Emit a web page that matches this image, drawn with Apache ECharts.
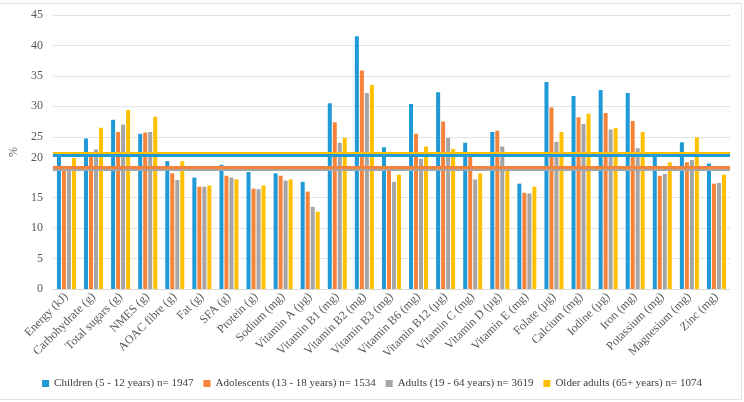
<!DOCTYPE html>
<html lang="en">
<head>
    <meta charset="UTF-8">
    <title>Nutrient intake by age group</title>
    <script src="https://cdn.jsdelivr.net/npm/echarts@6/dist/echarts.min.js"></script>
    <style>
        html, body {
            margin: 0;
            padding: 0;
            background: #fff;
        }
        .frame {
            position: absolute;
            left: -1px;
            top: 3px;
            width: 741px;
            height: 395px;
            border: 1px solid #e3e3e3;
        }
        #chart {
            position: absolute;
            left: 0;
            top: 0;
            width: 744px;
            height: 402px;
        }
    </style>
</head>
<body>
    <div class="frame"></div>
    <div id="chart"></div>

    <script>
        // categories (nutrients)
        const categories = [
            'Energy (kJ)', 'Carbohydrate (g)', 'Total sugars (g)', 'NMES (g)', 'AOAC fibre (g)',
            'Fat (g)', 'SFA (g)', 'Protein (g)', 'Sodium (mg)', 'Vitamin A (µg)',
            'Vitamin B1 (mg)', 'Vitamin B2 (mg)', 'Vitamin B3 (mg)', 'Vitamin B6 (mg)', 'Vitamin B12 (µg)',
            'Vitamin C (mg)', 'Vitamin D (µg)', 'Vitamin E (mg)', 'Folate (µg)', 'Calcium (mg)',
            'Iodine (µg)', 'Iron (mg)', 'Potassium (mg)', 'Magnesium (mg)', 'Zinc (mg)'
        ];

        const seriesNames = [
            'Children (5 - 12 years) n= 1947',
            'Adolescents (13 - 18 years) n= 1534',
            'Adults (19 - 64 years) n= 3619',
            'Older adults (65+ years) n= 1074'
        ];

        // % values
        const children    = [21.9, 24.7, 27.8, 25.5, 21.0, 18.3, 20.4, 19.2, 19.0, 17.6, 30.5, 41.5, 23.3, 30.4, 32.3, 24.0, 25.8, 17.3, 34.0, 31.7, 32.7, 32.2, 22.0, 24.1, 20.6];
        const adolescents = [20.0, 22.0, 25.8, 25.7, 19.0, 16.8, 18.6, 16.5, 18.6, 16.0, 27.4, 35.9, 19.9, 25.5, 27.5, 21.8, 26.0, 15.8, 29.8, 28.2, 28.9, 27.6, 18.6, 20.8, 17.3];
        const adults      = [19.8, 22.9, 27.0, 25.8, 17.9, 16.8, 18.3, 16.4, 17.8, 13.5, 24.0, 32.2, 17.6, 21.4, 24.8, 18.0, 23.4, 15.7, 24.2, 27.1, 26.2, 23.1, 18.9, 21.2, 17.4];
        const olderAdults = [21.5, 26.5, 29.4, 28.3, 21.0, 17.0, 18.0, 17.0, 18.0, 12.7, 24.8, 33.5, 18.8, 23.4, 23.0, 19.0, 19.6, 16.8, 25.8, 28.8, 26.4, 25.8, 20.8, 24.9, 18.8];

        // horizontal reference line for each group (same order as seriesNames)
        const refLines = [22.0, 20.0, 19.7, 22.3];

        const colors = ['#1f9ad6', '#f5843a', '#a5a5a5', '#ffc000'];
        const allData = [children, adolescents, adults, olderAdults];

        const font = 'Liberation Serif, serif';

        const chart = echarts.init(document.getElementById('chart'));

        const series = allData.map((d, i) => ({
            name: seriesNames[i],
            type: 'bar',
            data: d,
            barWidth: 4,
            barGap: '25%',
            itemStyle: { color: colors[i] }
        }));

        // reference lines go on empty line series so they sit above all bars;
        // drawing order: yellow, blue, grey, orange (last one on top)
        [3, 0, 2, 1].forEach(i => {
            series.push({
                name: 'ref' + i,
                type: 'line',
                data: [],
                markLine: {
                    silent: true,
                    symbol: 'none',
                    label: { show: false },
                    lineStyle: { color: colors[i], width: 3, type: 'solid', opacity: 1 },
                    data: [{ yAxis: refLines[i] }]
                }
            });
        });

        chart.setOption({
            animation: false,
            textStyle: { fontFamily: font },
            grid: { left: 50, right: 14, top: 15, bottom: 113 },
            legend: {
                bottom: 8,
                left: 'center',
                icon: 'rect',
                itemWidth: 7,
                itemHeight: 7,
                itemGap: 10,
                textStyle: { fontFamily: 'serif', fontSize: 11, color: '#404040' },
                data: seriesNames
            },
            xAxis: {
                type: 'category',
                data: categories,
                axisLine: { lineStyle: { color: '#d9d9d9' } },
                axisTick: { show: false },
                axisLabel: {
                    interval: 0,
                    rotate: 45,
                    margin: 6,
                    fontFamily: font,
                    fontSize: 12,
                    color: '#595959'
                }
            },
            yAxis: {
                type: 'value',
                min: 0,
                max: 45,
                interval: 5,
                name: '%',
                nameLocation: 'middle',
                nameGap: 30,
                nameRotate: 90,
                nameTextStyle: { fontFamily: font, fontSize: 12, color: '#595959' },
                axisLine: { show: false },
                axisTick: { show: false },
                splitLine: { lineStyle: { color: '#e3e3e3' } },
                axisLabel: {
                    margin: 10,
                    fontFamily: font,
                    fontSize: 12,
                    color: '#595959',
                    // the "20" label sits a little higher in the original
                    formatter: v => v === 20 ? '{up|20}' : String(v),
                    rich: {
                        up: { fontFamily: font, fontSize: 12, color: '#595959', padding: [0, 0, 18, 0] }
                    }
                }
            },
            series: series
        });
    </script>
</body>
</html>
